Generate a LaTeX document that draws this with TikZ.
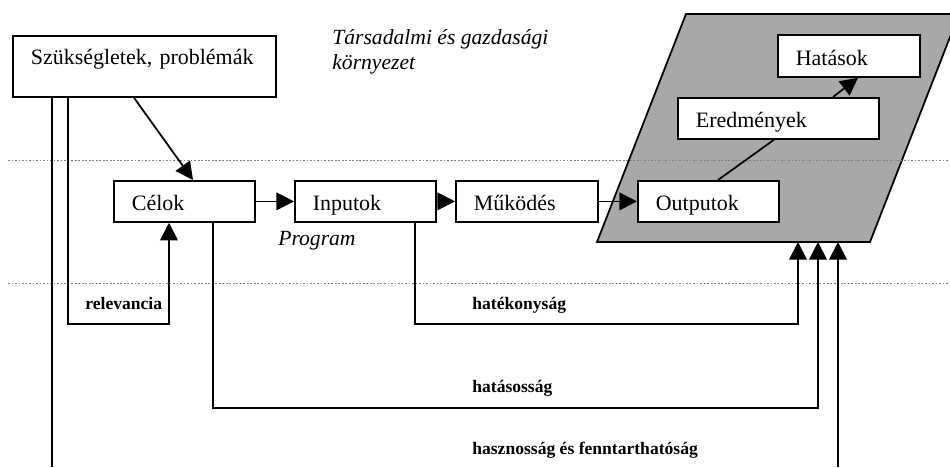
\documentclass[tikz,border=0pt]{standalone}
\usepackage{fontspec}
\setmainfont{Liberation Serif}
\usetikzlibrary{arrows.meta,calc}
\definecolor{envgray}{HTML}{A8A8A8}

\begin{document}
\begin{tikzpicture}[x=0.02cm,y=-0.02cm,
  box/.style={draw,line width=1pt,fill=white,anchor=north west,
    inner xsep=0.36cm,inner ysep=0pt,align=left,
    text height=0.6cm,text depth=0.22cm,font=\fontsize{12.5}{15}\selectfont},
  arr/.style={line width=1pt,-{Triangle[length=10pt,width=10pt]}},
  link/.style={line width=1pt},
  sep/.style={gray,line width=0.5pt,dash pattern=on 1pt off 1pt},
  crit/.style={anchor=base west,inner sep=0pt,font=\bfseries\fontsize{10}{12}\selectfont},
  note/.style={anchor=base west,inner sep=0pt,align=left,font=\itshape\fontsize{12.3}{14.2}\selectfont}]
  \useasboundingbox (0,0) rectangle (950,467);
  \clip (0,0) rectangle (950,467);

  % environment of the program
  \coordinate (pbl) at (597,242);
  \filldraw[line width=1pt,fill=envgray] (pbl) -- ++(273,0) -- ++(89,-228) -- ++(-273,0) -- cycle;

  \draw[sep] (8,160) -- (950,160);
  \draw[sep] (8,283) -- (950,283);

  \node[note] (kornyezet) at (332,69) {Társadalmi és gazdasági\\környezet};
  \node[note] (program) at (278,245) {Program};

  % boxes
  \node[box,text width=4.54cm,text height=0.58cm,text depth=0.64cm] (szuk) at (12,35) {Szükségletek, problémák};
  \node[box,text width=2.1cm] (celok) at (113,180) {Célok};
  \node[box,text width=2.1cm] (inputok) at (294,180) {Inputok};
  \node[box,text width=2.12cm] (mukodes) at (455,180) {Működés};
  \node[box,text width=2.1cm] (outputok) at (637,180) {Outputok};
  \node[box,text width=3.3cm] (eredm) at (677,97) {Eredmények};
  \node[box,text width=2.12cm,text height=0.62cm] (hatasok) at (777,34) {Hatások};

  % chain
  \draw[arr] ($(szuk.south west)+(122,0)$) -- ($(celok.north west)+(80,0)$);
  \draw[arr] (celok.east) -- (inputok.west);
  \draw[arr] (inputok.east) -- (mukodes.west);
  \draw[arr] (mukodes.east) -- (outputok.west);
  \draw[link] ($(outputok.north west)+(81,0)$) -- ($(eredm.south west)+(97,0)$);
  \draw[arr] ($(eredm.north west)+(156,0)$) -- ($(hatasok.south west)+(81,0)$);

  % criteria
  \draw[link] (szuk.south -| 52,0) -- (52,467);
  \draw[arr] (szuk.south -| 68,0) |- (169,324) -- (celok.south -| 169,0);
  \draw[arr] (inputok.south -| 415,0) |- (798,324) -- (798,0 |- pbl);
  \draw[arr] (celok.south -| 213,0) |- (818,408) -- (818,0 |- pbl);
  \coordinate (lb) at (838,467);
  \draw[arr] (lb) -- (lb |- pbl);

  \node[crit] (relev) at (85,309) {relevancia};
  \node[crit] (hatek) at (472,309) {hatékonyság};
  \node[crit] (hatas) at (472,392) {hatásosság};
  \node[crit] (haszn) at (472,454) {hasznosság és fenntarthatóság};

\end{tikzpicture}
\end{document}
